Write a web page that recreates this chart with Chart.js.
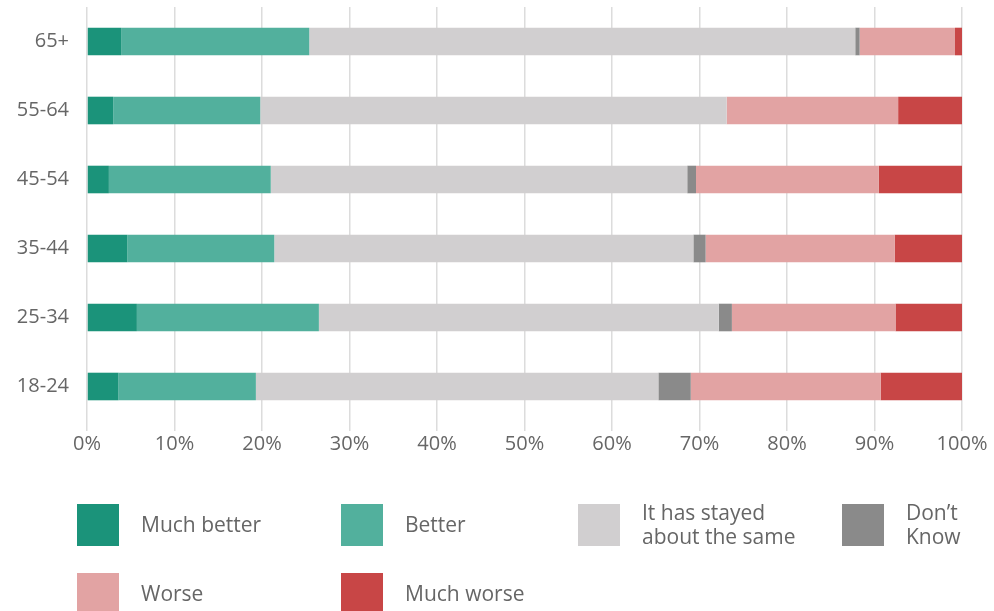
<!DOCTYPE html>
<html>
<head>
<meta charset="utf-8">
<script src="https://cdn.jsdelivr.net/npm/chart.js@4/dist/chart.umd.min.js"></script>
<style>
  html, body { margin: 0; padding: 0; background: #ffffff; }
  #wrap { position: relative; width: 994px; height: 611px; }
</style>
</head>
<body>
<div id="wrap"><canvas id="chart" width="994" height="611"></canvas></div>
<script>
// Age groups, top to bottom
const ageGroups = ['65+', '55-64', '45-54', '35-44', '25-34', '18-24'];

// Share of respondents (%) per answer, in the same order as ageGroups
const muchBetter = [3.9, 3.0, 2.5, 4.6, 5.7, 3.6];
const better     = [21.5, 16.8, 18.5, 16.8, 20.8, 15.7];
const stayedSame = [62.4, 53.3, 47.6, 47.9, 45.7, 46.0];
const dontKnow   = [0.5, 0.0, 1.0, 1.4, 1.5, 3.7];
const worse      = [10.9, 19.6, 20.9, 21.6, 18.7, 21.7];
const muchWorse  = [0.8, 7.3, 9.5, 7.7, 7.6, 9.3];

const answerLabels = ['Much better', 'Better', 'It has stayed\nabout the same', 'Don\u2019t\nKnow', 'Worse', 'Much worse'];
const answerColors = ['#1b937a', '#52b09d', '#d1cfd0', '#8a8a8a', '#e2a3a3', '#c84646'];
const series = [muchBetter, better, stayedSame, dontKnow, worse, muchWorse];

const TEXT_COLOR = '#666666';
const FONT = '"Open Sans", Lato, sans-serif';

// Legend drawn as a grid below the plot: 4 columns, 2 rows
const legendCols = [77, 341, 578, 842];
const legendRows = [504, 573];
const legendBox = 42;
const legendTextGap = 64;

const gridLegend = {
  id: 'gridLegend',
  afterDraw(chart) {
    const ctx = chart.ctx;
    ctx.save();
    ctx.font = '400 21px ' + FONT;
    ctx.textBaseline = 'middle';
    ctx.textAlign = 'left';
    chart.data.datasets.forEach((ds, i) => {
      const x = legendCols[i % 4];
      const y = legendRows[Math.floor(i / 4)];
      ctx.fillStyle = ds.backgroundColor;
      ctx.fillRect(x, y, legendBox, legendBox);
      ctx.fillStyle = TEXT_COLOR;
      const lines = ds.label.split('\n');
      const lh = 24;
      const cy = y + legendBox / 2 + 1;
      lines.forEach((ln, k) => {
        ctx.fillText(ln, x + legendTextGap, cy + (k - (lines.length - 1) / 2) * lh);
      });
    });
    ctx.restore();
  }
};

new Chart(document.getElementById('chart'), {
  type: 'bar',
  data: {
    labels: ageGroups,
    datasets: series.map((vals, i) => ({
      label: answerLabels[i],
      data: vals,
      backgroundColor: answerColors[i],
      borderWidth: 0,
      barPercentage: 0.4,
      categoryPercentage: 1.0
    }))
  },
  options: {
    indexAxis: 'y',
    responsive: false,
    animation: false,
    layout: { padding: { top: 7, right: 32, bottom: 150, left: 0 } },
    plugins: {
      legend: { display: false },
      tooltip: { enabled: false }
    },
    scales: {
      x: {
        stacked: true,
        min: 0,
        max: 100,
        afterFit(scale) { scale.height = 40; },
        ticks: {
          stepSize: 10,
          padding: 1,
          color: TEXT_COLOR,
          font: { family: FONT, size: 20, weight: '400' },
          callback: v => v + '%'
        },
        grid: {
          color: '#dcdcdc',
          lineWidth: 1.5,
          drawTicks: true,
          tickLength: 10
        },
        border: { display: false }
      },
      y: {
        stacked: true,
        afterFit(scale) {
          scale.width = 87;
          scale.paddingTop = 0;
          scale.paddingBottom = 0;
        },
        ticks: {
          padding: 18,
          color: TEXT_COLOR,
          font: { family: FONT, size: 20, weight: '400' }
        },
        grid: { display: false, drawTicks: false },
        border: { display: false }
      }
    }
  },
  plugins: [gridLegend]
});
</script>
</body>
</html>
